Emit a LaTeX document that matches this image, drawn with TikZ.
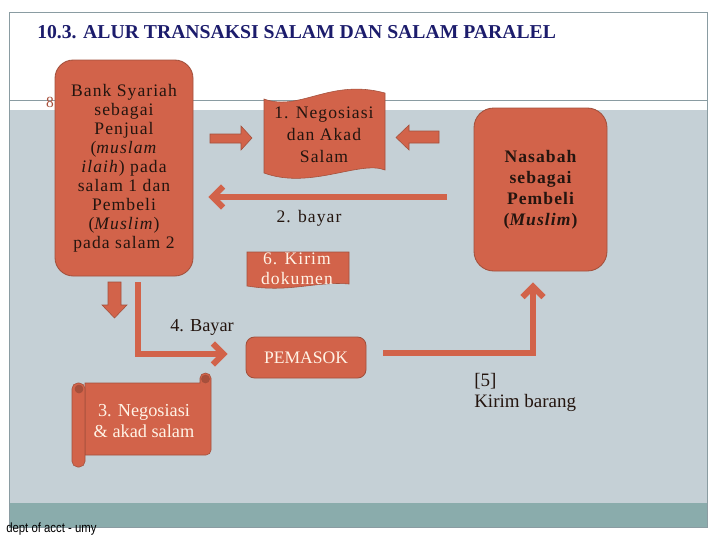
\documentclass[tikz,border=0pt]{standalone}
\usepackage{fontspec}
\setmainfont{Liberation Serif}
\newfontfamily\footfont{Liberation Sans}
\newfontfamily\widefont[LetterSpace=6]{Liberation Serif}
\usepackage{tikz}
\usetikzlibrary{arrows.meta}
\usetikzlibrary{positioning}

\definecolor{bankred}{HTML}{D2634A}
\definecolor{bankedge}{HTML}{A2503C}
\definecolor{slidebg}{HTML}{C5D0D6}
\definecolor{footband}{HTML}{8AACAC}
\definecolor{titleblue}{HTML}{1C1C6C}
\definecolor{ringgray}{HTML}{6E9090}
\definecolor{ink}{HTML}{24150F}
\definecolor{cream}{HTML}{FFF3E6}
\definecolor{rule}{HTML}{8A9CA2}

\def\pxu{0.025cm}

\tikzset{
    roundbox/.style={draw=bankedge, fill=bankred, line width=0.6pt, align=center, text=ink},
    blockarrow/.style={draw=bankedge, fill=bankred, line width=0.4pt},
    flowline/.style={draw=bankred, line width=4.2pt, -{Straight Barb[length=7.5pt, width=15pt]}},
    label/.style={text=ink, font=\fontsize{12.5}{14.5}\selectfont, align=center, inner sep=0pt}
}

\begin{document}
\begin{tikzpicture}[x=\pxu, y=-\pxu]
    \useasboundingbox (0,0) rectangle (720,540);
    \fill[white] (0,0) rectangle (720,540);
    \fill[slidebg] (9,110) rectangle (707,503);
    \fill[footband] (9,503) rectangle (707,527);
    \draw[rule, line width=0.6pt] (9,12) rectangle (707,527);
    \draw[rule, line width=0.6pt] (9,100) -- (707,100);
    \node[anchor=west, inner sep=0pt, text=titleblue, font=\fontsize{14}{15}\selectfont\bfseries] (title) at (37,32) {10.3. ALUR TRANSAKSI SALAM DAN SALAM PARALEL};
    \node[inner sep=0pt, text=bankred!80!black, font=\fontsize{11}{12}\selectfont] (bullet) at (50,102) {8};

    \node[roundbox, rounded corners=13pt, minimum width=138*\pxu, minimum height=216*\pxu,
          font=\widefont\fontsize{12.5}{13.5}\selectfont] (bank) at (124,168)
        {Bank Syariah\\sebagai\\Penjual\\(\textit{muslam}\\\textit{ilaih}) pada\\salam 1 dan\\Pembeli\\(\textit{Muslim})\\pada salam 2};
    \node[roundbox, rounded corners=14pt, minimum width=133*\pxu, minimum height=163*\pxu,
          font=\widefont\fontsize{12.5}{15}\selectfont\bfseries] (nasabah) at (540.5,189.5)
        {Nasabah\\sebagai\\Pembeli\\(\textit{Muslim})};
    \node[roundbox, rounded corners=6pt, minimum width=120*\pxu, minimum height=41*\pxu,
          text=cream, font=\fontsize{12.5}{14}\selectfont] (pemasok) at (306,357.5) {PEMASOK};

    \draw[ringgray, line width=3pt] (343,97) arc (180:0:17);
    \filldraw[blockarrow] (264,99) .. controls (300,112) and (330,78) .. (385,93)
        -- (385,170) .. controls (360,160) and (310,190) .. (264,173) -- cycle;
    \node[label, font=\widefont\fontsize{12.5}{15.5}\selectfont] (akad) at (324,135) {1. Negosiasi\\dan Akad\\Salam};

    \filldraw[blockarrow] (247,252) -- (349,252) -- (349,284)
        .. controls (315,281) and (290,293) .. (247,286) -- cycle;
    \node[label, text=cream, font=\widefont\fontsize{12.5}{14}\selectfont] (dokumen) at (297,269) {6. Kirim\\dokumen};

    \filldraw[blockarrow] (85,383) -- (200,383) -- (200,378) to[out=90, in=180] (205.5,373)
        to[out=0, in=90] (211,378) -- (211,450) to[out=-90, in=0] (206,455) -- (85,455) -- cycle;
    \filldraw[blockarrow, rounded corners=4pt] (72,383) rectangle (85,467);
    \filldraw[blockarrow, fill=bankred!80!black] (79,389) circle (4);
    \filldraw[blockarrow, fill=bankred!80!black] (205.5,379) circle (4);
    \node[label, text=cream, font=\fontsize{13}{14.5}\selectfont] (akad2) at (144,421) {3. Negosiasi\\\& akad salam};

    \filldraw[blockarrow] (210,134) -- (241,134) -- (241,126) -- (252,138) -- (241,150) -- (241,143) -- (210,143) -- cycle;
    \filldraw[blockarrow] (439,131) -- (409,131) -- (409,125) -- (396,137.5) -- (409,150) -- (409,143) -- (439,143) -- cycle;
    \filldraw[blockarrow] (108,282) -- (121,282) -- (121,305) -- (127,305) -- (114.5,318) -- (102,305) -- (108,305) -- cycle;

    \coordinate (bayarstart) at (447,197);
    \coordinate (bayarend) at ([xshift=15*\pxu]bank.east |- bayarstart);
    \draw[flowline] (bayarstart) -- (bayarend);
    \node[label, font=\widefont\fontsize{12.5}{14}\selectfont] (bayar) at (309,218) {2. bayar};

    \coordinate (bayar4start) at (138,282);
    \draw[flowline] (bayar4start) |- ([xshift=-18*\pxu]pemasok.west |- 0,354);
    \node[label, font=\fontsize{13}{14}\selectfont] (bayar4) at (202,327) {4. Bayar};

    \coordinate (kirimstart) at ([xshift=17*\pxu]pemasok.east |- 0,353);
    \draw[flowline] (kirimstart) -| ([yshift=-11*\pxu]nasabah.south -| 533,0);
    \node[label, anchor=north west, align=left, font=\fontsize{13.5}{15}\selectfont] (barang) at (474,373) {[5]\\Kirim barang};

    \node[anchor=west, inner sep=0pt, font=\footfont\fontsize{9.5}{10}\selectfont] (foot) at (6,529) {\scalebox{0.85}[1]{dept of acct - umy}};
\end{tikzpicture}
\end{document}
